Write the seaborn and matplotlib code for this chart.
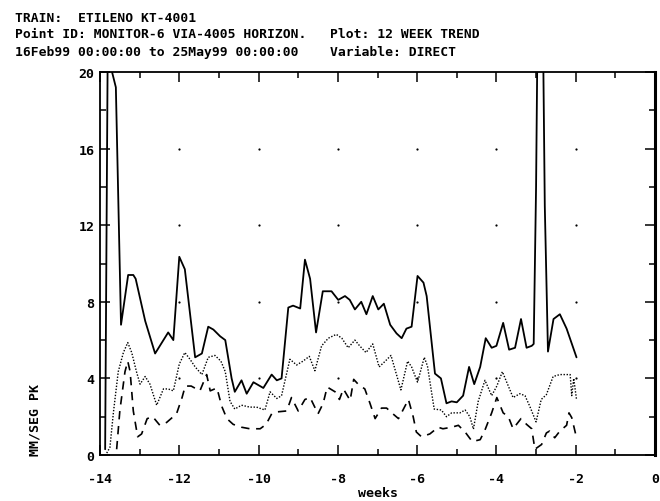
"""
12 week trend plot for the KT-4001 train, monitor point 6 (direct vibration).
"""

import numpy as np
import seaborn as sns
import matplotlib
matplotlib.use("Agg")
import matplotlib.pyplot as plt

sns.set_style("ticks")
plt.rcParams["font.family"] = ["DejaVu Sans Mono", "DejaVu Sans"]
plt.rcParams["font.weight"] = "bold"
plt.rcParams["text.color"] = "black"
plt.rcParams["axes.labelcolor"] = "black"
plt.rcParams["xtick.color"] = "black"
plt.rcParams["ytick.color"] = "black"

# header lines
header = [
    "TRAIN:  ETILENO KT-4001",
    "Point ID: MONITOR-6 VIA-4005 HORIZON.   Plot: 12 WEEK TREND",
    "16Feb99 00:00:00 to 25May99 00:00:00    Variable: DIRECT",
]

# solid trace (peak level)
solid_x = [-13.87, -13.8, -13.72, -13.6, -13.47, -13.29, -13.16, -13.1,
           -12.86, -12.61, -12.28, -12.15, -12.0, -11.86, -11.6, -11.43,
           -11.27, -11.14, -10.97, -10.84, -10.68, -10.6, -10.43, -10.3,
           -10.13, -9.88, -9.67, -9.54, -9.42, -9.25, -9.13, -8.95, -8.83,
           -8.7, -8.55, -8.38, -8.16, -7.99, -7.82, -7.7, -7.57, -7.41,
           -7.28, -7.12, -6.98, -6.84, -6.68, -6.52, -6.39, -6.27, -6.14,
           -5.99, -5.84, -5.76, -5.55, -5.4, -5.26, -5.13, -5.0, -4.84,
           -4.69, -4.56, -4.41, -4.27, -4.12, -4.0, -3.83, -3.68, -3.53,
           -3.38, -3.24, -3.11, -3.06, -3.0, -2.95, -2.84, -2.78, -2.7,
           -2.56, -2.4, -2.23, -1.98]
solid_y = [0.3, 23, 20.2, 19.2, 6.8, 9.4, 9.4, 9.2, 7.0, 5.3, 6.4, 6.0,
           10.35, 9.7, 5.1, 5.3, 6.7, 6.55, 6.2, 6.0, 4.0, 3.3, 3.9, 3.2,
           3.8, 3.5, 4.2, 3.9, 4.0, 7.7, 7.8, 7.65, 10.2, 9.2, 6.4, 8.55,
           8.55, 8.1, 8.3, 8.1, 7.6, 8.0, 7.35, 8.3, 7.6, 7.9, 6.8, 6.35,
           6.1, 6.6, 6.7, 9.35, 9.0, 8.3, 4.25, 4.0, 2.7, 2.8, 2.75, 3.1,
           4.6, 3.7, 4.6, 6.1, 5.6, 5.7, 6.9, 5.5, 5.6, 7.1, 5.6, 5.7, 5.8,
           14, 25, 25, 13, 5.4, 7.1, 7.35, 6.6, 5.1]

# dotted trace
dot_x = [-13.83, -13.75, -13.66, -13.54, -13.41, -13.3, -13.2, -13.08,
         -12.99, -12.86, -12.74, -12.57, -12.4, -12.28, -12.15, -12.0,
         -11.86, -11.73, -11.6, -11.43, -11.27, -11.1, -10.95, -10.84,
         -10.72, -10.6, -10.43, -10.22, -10.05, -9.84, -9.71, -9.54, -9.42,
         -9.21, -9.04, -8.88, -8.72, -8.58, -8.41, -8.24, -8.04, -7.9,
         -7.74, -7.57, -7.45, -7.29, -7.12, -6.96, -6.83, -6.66, -6.41,
         -6.24, -6.14, -5.99, -5.82, -5.74, -5.57, -5.39, -5.26, -5.13,
         -4.92, -4.79, -4.67, -4.58, -4.46, -4.29, -4.12, -3.99, -3.85,
         -3.7, -3.58, -3.41, -3.28, -3.16, -3.0, -2.87, -2.74, -2.57, -2.4,
         -2.14, -2.1, -2.05, -1.98]
dot_y = [0.1, 0.4, 2.25, 4.35, 5.35, 5.87, 5.35, 4.35, 3.7, 4.1, 3.7, 2.6,
         3.45, 3.45, 3.35, 4.75, 5.35, 5.0, 4.6, 4.2, 5.1, 5.2, 4.9, 4.35,
         2.8, 2.4, 2.6, 2.5, 2.5, 2.35, 3.3, 2.95, 3.1, 5.0, 4.7, 4.9, 5.15,
         4.4, 5.7, 6.1, 6.3, 6.1, 5.6, 6.0, 5.7, 5.35, 5.8, 4.6, 4.85, 5.2,
         3.4, 4.9, 4.6, 3.8, 5.1, 4.65, 2.4, 2.35, 2.0, 2.2, 2.2, 2.35, 2.0,
         1.35, 2.8, 3.9, 3.1, 3.6, 4.35, 3.6, 3.0, 3.2, 3.1, 2.55, 1.73,
         2.9, 3.15, 4.1, 4.2, 4.2, 3.1, 4.0, 2.9]

# dashed trace
dash_x = [-13.58, -13.5, -13.37, -13.3, -13.24, -13.16, -13.05, -12.95,
          -12.81, -12.67, -12.49, -12.32, -12.07, -11.93, -11.85, -11.7,
          -11.48, -11.31, -11.22, -11.05, -10.93, -10.8, -10.64, -10.43,
          -10.22, -9.96, -9.81, -9.67, -9.54, -9.29, -9.17, -9.0, -8.83,
          -8.7, -8.5, -8.37, -8.27, -8.07, -7.96, -7.86, -7.69, -7.6, -7.49,
          -7.32, -7.19, -7.06, -6.9, -6.77, -6.64, -6.47, -6.22, -6.1,
          -6.02, -5.89, -5.68, -5.47, -5.35, -5.13, -4.96, -4.79, -4.61,
          -4.41, -4.29, -4.12, -3.99, -3.83, -3.7, -3.58, -3.38, -3.24,
          -3.11, -3.03, -2.86, -2.74, -2.66, -2.53, -2.4, -2.23, -2.17,
          -2.1, -1.98]
dash_y = [0.3, 2.3, 4.35, 4.9, 4.35, 2.3, 0.95, 1.1, 1.9, 2.0, 1.55, 1.7,
          2.15, 3.0, 3.6, 3.6, 3.35, 4.2, 3.35, 3.5, 2.55, 1.9, 1.6, 1.45,
          1.37, 1.37, 1.6, 2.15, 2.25, 2.3, 3.0, 2.3, 2.9, 3.0, 2.15, 2.7,
          3.55, 3.3, 2.9, 3.45, 2.85, 3.95, 3.7, 3.45, 2.7, 1.9, 2.45, 2.45,
          2.2, 1.9, 2.9, 2.0, 1.2, 0.95, 1.1, 1.45, 1.37, 1.45, 1.55, 1.2,
          0.7, 0.8, 1.3, 2.2, 3.0, 2.2, 2.0, 1.37, 1.9, 1.6, 1.37, 0.3,
          0.55, 1.15, 1.25, 0.9, 1.25, 1.55, 2.2, 1.95, 0.9]

x_ticks = [-14, -12, -10, -8, -6, -4, -2, 0]
y_ticks = [0, 4, 8, 12, 16, 20]


def main():
    fig = plt.figure(figsize=(6.6, 5.02), dpi=100)
    ax = fig.add_axes([100 / 660, 46 / 502, 555 / 660, 383 / 502])

    sns.lineplot(x=solid_x, y=solid_y, ax=ax, color="black", lw=1.3,
                 estimator=None, sort=False)
    sns.lineplot(x=dot_x, y=dot_y, ax=ax, color="black", lw=1.0,
                 linestyle=(0, (1, 1.2)), estimator=None, sort=False)
    sns.lineplot(x=dash_x, y=dash_y, ax=ax, color="black", lw=1.2,
                 linestyle=(0, (5, 4)), estimator=None, sort=False)

    # dot grid at the inner major tick crossings
    gx, gy = np.meshgrid(x_ticks[1:-1], y_ticks[1:-1])
    ax.plot(gx.ravel(), gy.ravel(), linestyle="none", marker="o",
            ms=1.6, mew=0, color="black")

    ax.set_xlim(-14, 0)
    ax.set_ylim(0, 20)
    ax.set_xticks(x_ticks)
    ax.set_xticks(np.arange(-14, 1, 1), minor=True)
    ax.set_yticks(y_ticks)
    ax.set_yticks(np.arange(0, 21, 2), minor=True)
    ax.set_xticklabels([str(t) for t in x_ticks], fontsize=9.5,
                       fontweight="bold")
    ax.set_yticklabels([str(t) for t in y_ticks], fontsize=9.5,
                       fontweight="bold")
    ax.tick_params(which="both", direction="in", top=True, right=True,
                   color="black", width=1.1)
    ax.tick_params(which="major", length=7)
    ax.tick_params(which="minor", length=4)
    ax.tick_params(axis="x", which="major", pad=12)
    ax.tick_params(axis="y", which="major", pad=4)
    for side in ["left", "bottom", "top"]:
        ax.spines[side].set_linewidth(1.3)
        ax.spines[side].set_color("black")
    ax.spines["right"].set_linewidth(2.2)
    ax.spines["right"].set_color("black")

    ax.set_xlabel("weeks", fontsize=9.5, fontweight="bold", labelpad=1)
    ax.set_ylabel("")
    fig.text(35 / 660, 1 - 420 / 502, "MM/SEG PK", rotation=90,
             ha="center", va="center", fontsize=9.5, fontweight="bold")

    for i, line in enumerate(header):
        fig.text(15 / 660, 1 - (18 + 17 * i) / 502, line, ha="left",
                 va="center", fontsize=9.4, fontweight="bold")

    fig.savefig("out.png", dpi=100)


if __name__ == "__main__":
    main()
